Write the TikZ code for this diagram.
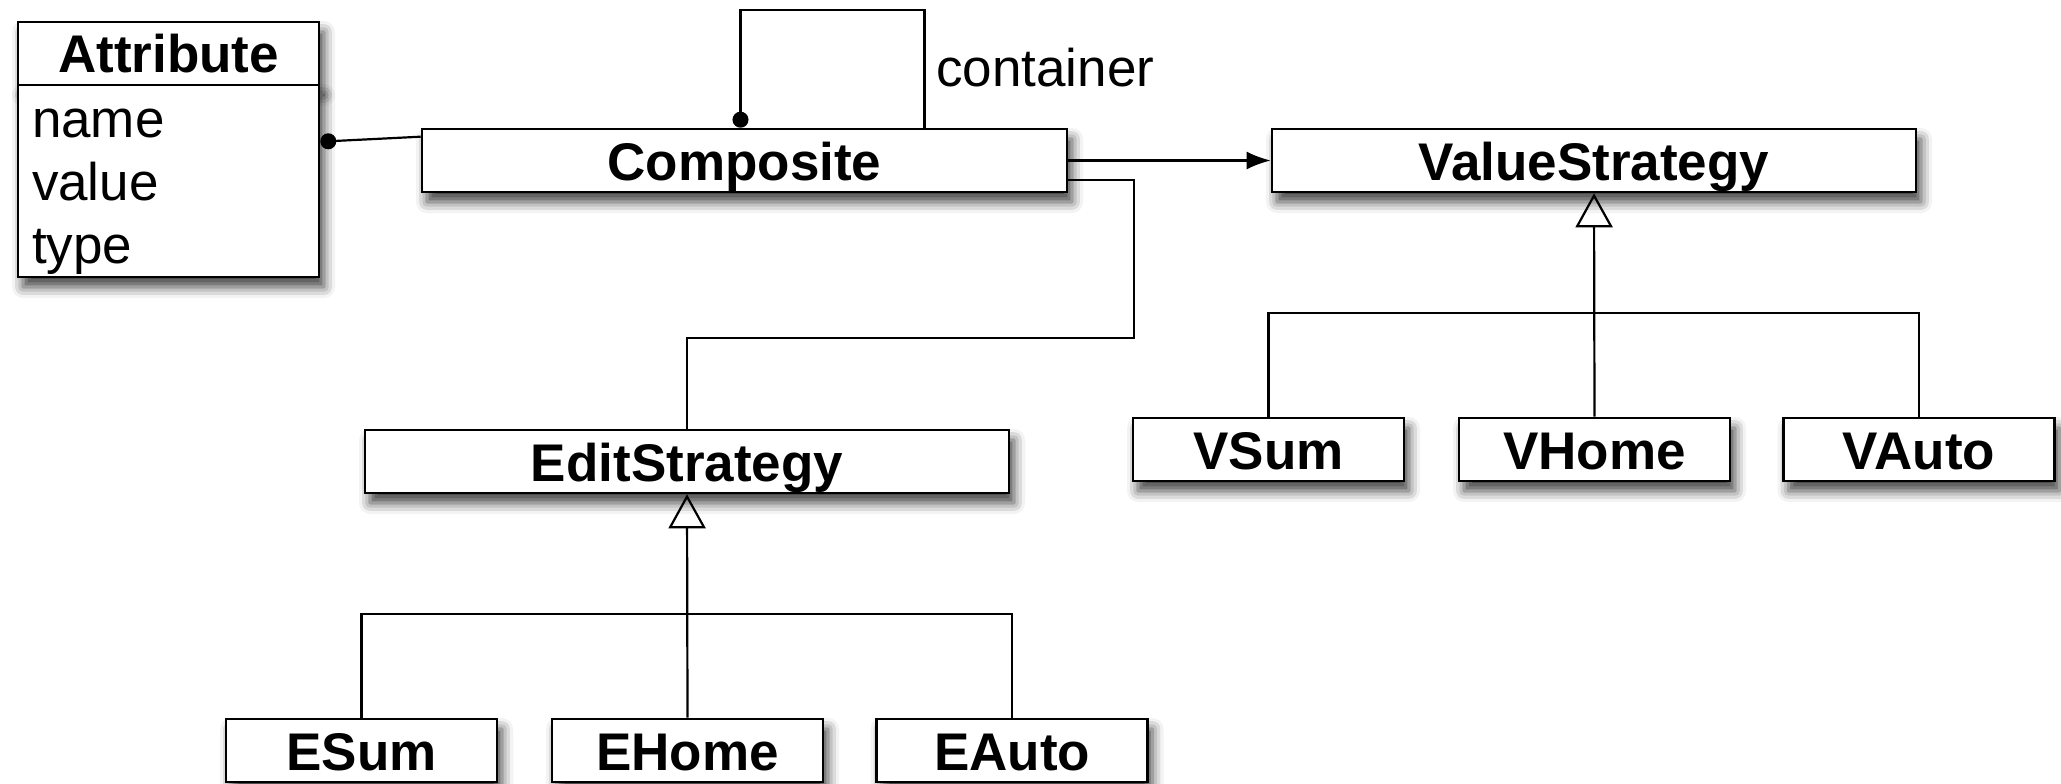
\documentclass[tikz,border=0pt]{standalone}
\usepackage{fontspec}
\setmainfont{Liberation Sans}
\usetikzlibrary{arrows.meta,shadows.blur}

\tikzset{
  box/.style={draw, fill=white, line width=2.6pt, inner sep=0pt,
    blur shadow={shadow xshift=5pt, shadow yshift=-10pt, shadow blur radius=11pt, shadow opacity=75}},
  cls/.style={box, minimum height=63pt, text height=39pt, text depth=0pt,
    font=\bfseries\fontsize{53}{63}\selectfont},
  leaf/.style={cls, minimum width=271pt},
  attrs/.style={box, minimum height=192pt, inner xsep=14pt, text width=273pt,
    align=left, font=\fontsize{53}{63}\selectfont},
  link/.style={line width=2.2pt},
}

\begin{document}
\begin{tikzpicture}[x=1pt,y=-1pt]
    \useasboundingbox (0,0) rectangle (2061,784);

    % classes
    \node[cls, minimum width=301pt] (attr) at (168.5,53.5) {Attribute};
    \node[attrs] (attrlist) at (168.5,181) {\rule{0pt}{50pt}name\\value\\type};

    \node[cls, minimum width=645pt] (comp) at (744.5,160.5) {Composite};
    \node[cls, minimum width=644pt] (vstrat) at (1594,160.5) {ValueStrategy};
    \node[cls, minimum width=644pt] (estrat) at (687,461.5) {EditStrategy};

    \node[leaf] (vsum) at (1268.5,449.5) {VSum};
    \node[leaf] (vhome) at (1594.5,449.5) {VHome};
    \node[leaf] (vauto) at (1919,449.5) {VAuto};

    \node[leaf] (esum) at (361.5,750.5) {ESum};
    \node[leaf] (ehome) at (687.5,750.5) {EHome};
    \node[leaf] (eauto) at (1012,750.5) {EAuto};

    \node[anchor=west, inner sep=0pt, font=\fontsize{53}{63}\selectfont] (cont) at (936,68) {container};

    % associations
    \draw[link, -{Circle[length=16pt]}] ([yshift=-9pt]comp.north west) -- ([yshift=-58pt]attrlist.north east);
    \draw[link, -{Circle[length=16pt]}] ([xshift=180pt]comp.north) -- ++(0,-118) -| ([xshift=-4pt]comp.north);
    \draw[link, -{Latex[length=24pt,width=18pt]}] (comp) -- (vstrat);
    \draw[link] ([yshift=13pt]comp.south east) -- ++(66,0) |- ([yshift=91pt]estrat.north) -- (estrat.north);

    % inheritance
    \draw[link, -{Triangle[open,length=34pt,width=37pt]}] (vhome.north) -- (vstrat.south);
    \draw[link] (vsum.north) -- ++(0,-104) -| (vauto.north);
    \draw[link, -{Triangle[open,length=34pt,width=37pt]}] (ehome.north) -- (estrat.south);
    \draw[link] (esum.north) -- ++(0,-104) -| (eauto.north);

\end{tikzpicture}
\end{document}
